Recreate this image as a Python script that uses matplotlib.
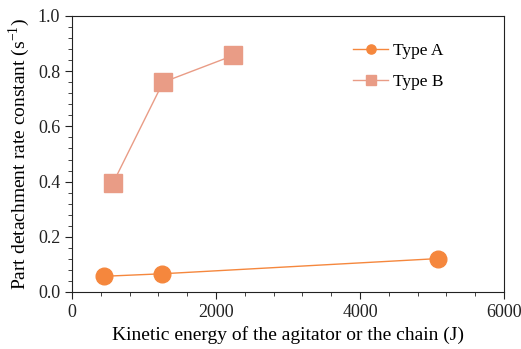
import matplotlib
matplotlib.use("Agg")
import matplotlib.pyplot as plt
from matplotlib.ticker import MultipleLocator

plt.rcParams['font.family'] = ['Liberation Serif', 'DejaVu Serif']
plt.rcParams['mathtext.fontset'] = 'custom'
plt.rcParams['mathtext.rm'] = 'Liberation Serif'

a_x = [450, 1250, 5080]
a_y = [0.057, 0.066, 0.121]
b_x = [570, 1265, 2240]
b_y = [0.395, 0.760, 0.857]

fig = plt.figure(figsize=(5.21, 3.49), dpi=100)
ax = fig.add_axes([72/521, 57/349, 432/521, 276/349])

ca = '#F5873D'
cb = '#E99C86'
ax.plot(a_x, a_y, '-o', color=ca, lw=1, ms=12, label='Type A')
ax.plot(b_x, b_y, '-s', color=cb, lw=1, ms=13, label='Type B')

ax.set_xlim(0, 6000)
ax.set_ylim(0, 1.0)
ax.xaxis.set_major_locator(MultipleLocator(2000))
ax.xaxis.set_minor_locator(MultipleLocator(400))
ax.yaxis.set_major_locator(MultipleLocator(0.2))
ax.yaxis.set_minor_locator(MultipleLocator(0.04))
ax.yaxis.set_major_formatter(matplotlib.ticker.FormatStrFormatter('%.1f'))
ax.tick_params(which='both', direction='out', labelsize=13, colors='#222222')
ax.tick_params(which='major', length=5)
ax.tick_params(which='minor', length=3)
for s in ax.spines.values():
    s.set_color('#222222')

ax.set_xlabel('Kinetic energy of the agitator or the chain (J)', fontsize=14)
ax.set_ylabel('Part detachment rate constant (s$^{\\mathregular{-1}}$)', fontsize=14)

leg = ax.legend(loc='upper right', frameon=False, fontsize=12.5, markerscale=0.55,
                bbox_to_anchor=(0.897, 0.96), labelspacing=0.85, handlelength=2.0,
                handletextpad=0.3)

fig.savefig('out.png', dpi=100)
